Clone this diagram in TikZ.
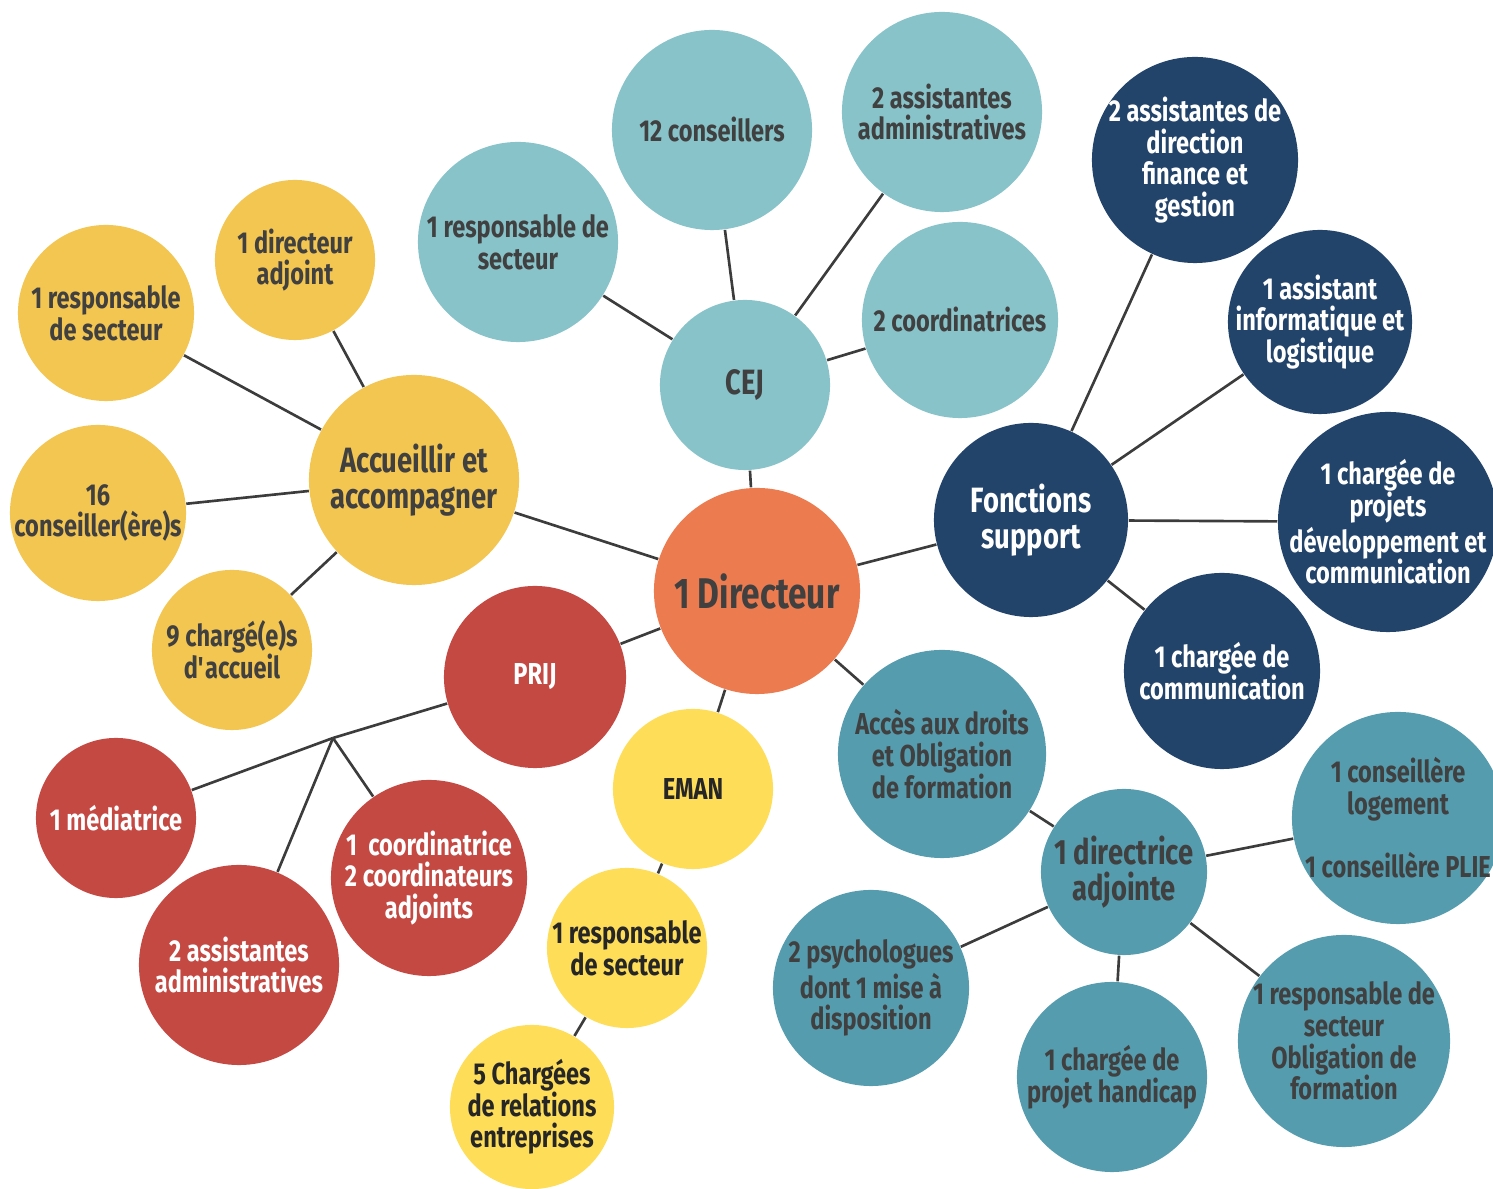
\documentclass[tikz,border=0pt]{standalone}
\usepackage{fontspec}
\setmainfont{Fira Sans}[FakeStretch=0.78]
\usetikzlibrary{backgrounds}

\definecolor{dirorange}{HTML}{EC7B4F}
\definecolor{cejteal}{HTML}{87C3C9}
\definecolor{fsnavy}{HTML}{22436A}
\definecolor{adteal}{HTML}{559CAE}
\definecolor{accgold}{HTML}{F3C551}
\definecolor{emanyellow}{HTML}{FEDD59}
\definecolor{prijred}{HTML}{C54943}
\definecolor{txtgrey}{HTML}{404040}
\definecolor{linkgrey}{HTML}{3C3C3C}

\begin{document}
\begin{tikzpicture}[x=0.01cm,y=-0.01cm,
    bubble/.style={circle,inner sep=-2pt,align=center,
      font=\bfseries\fontsize{8.6}{9}\selectfont},
    bigtxt/.style={font=\bfseries\fontsize{10}{10.3}\selectfont}]

  \useasboundingbox (0,0) rectangle (1493,1189);

  % centre
  \node[bubble,fill=dirorange,text=txtgrey,minimum size=2.06cm,
    font=\bfseries\fontsize{12.2}{13}\selectfont] (dir) at (757,591) {1 Directeur};

  % Accueillir et accompagner
  \begin{scope}[every node/.style={bubble,fill=accgold,text=txtgrey}]
    \node[minimum size=2.1cm,bigtxt] (acc) at (414,480) {Accueillir et\\accompagner};
    \node[minimum size=1.6cm]  (accdir)  at (295,260) {1 directeur\\adjoint};
    \node[minimum size=1.76cm] (accresp) at (106,313) {1 responsable\\de secteur};
    \node[minimum size=1.76cm] (acccons) at (98,513)  {16\\conseiller(ère)s};
    \node[minimum size=1.6cm]  (acccha)  at (232,650) {9 chargé(e)s\\d\textquotesingle accueil};
  \end{scope}

  % CEJ
  \begin{scope}[every node/.style={bubble,fill=cejteal,text=txtgrey}]
    \node[minimum size=1.7cm,bigtxt] (cej) at (745,385) {CEJ};
    \node[minimum size=2cm]    (cejcons)  at (712,130) {12 conseillers};
    \node[minimum size=2cm]    (cejass)   at (942,112) {2 assistantes\\administratives};
    \node[minimum size=2cm]    (cejresp)  at (518,242) {1 responsable de\\secteur};
    \node[minimum size=1.96cm] (cejcoord) at (960,320) {2 coordinatrices};
  \end{scope}

  % Fonctions support
  \begin{scope}[every node/.style={bubble,fill=fsnavy,text=white}]
    \node[minimum size=1.94cm,bigtxt] (fs) at (1031,520) {Fonctions\\support};
    \node[minimum size=2.06cm] (fsass)  at (1195,160) {2 assistantes de\\direction\\finance et\\gestion};
    \node[minimum size=1.84cm] (fsinfo) at (1320,322) {1 assistant\\informatique et\\logistique};
    \node[minimum size=2.2cm]  (fsproj) at (1388,522) {1 chargée de\\projets\\développement et\\communication};
    \node[minimum size=1.96cm] (fscom)  at (1222,671) {1 chargée de\\communication};
  \end{scope}

  % Acces aux droits
  \begin{scope}[every node/.style={bubble,fill=adteal,text=txtgrey}]
    \node[minimum size=2.08cm] (ad)     at (942,754)  {Accès aux droits\\et Obligation\\de formation};
    \node[minimum size=1.66cm,bigtxt] (adj) at (1124,872) {1 directrice\\adjointe};
    \node[minimum size=2.12cm] (adcons) at (1398,818) {1 conseillère\\logement\\~\\1 conseillère PLIE};
    \node[minimum size=1.96cm] (adpsy)  at (871,988)  {2 psychologues\\dont 1 mise à\\disposition};
    \node[minimum size=1.9cm]  (adhand) at (1112,1077) {1 chargée de\\projet handicap};
    \node[minimum size=2.12cm] (adresp) at (1344,1041) {1 responsable de\\secteur\\Obligation de\\formation};
  \end{scope}

  % EMAN
  \begin{scope}[every node/.style={bubble,fill=emanyellow,text=black!85}]
    \node[minimum size=1.6cm]  (eman)   at (693,789)  {EMAN};
    \node[minimum size=1.6cm]  (emresp) at (627,948)  {1 responsable\\de secteur};
    \node[minimum size=1.64cm] (emcha)  at (532,1107) {5 Chargées\\de relations\\entreprises};
  \end{scope}

  % PRIJ
  \begin{scope}[every node/.style={bubble,fill=prijred,text=white}]
    \node[minimum size=1.82cm] (prij)    at (535,677) {PRIJ};
    \node[minimum size=1.6cm]  (prmed)   at (116,818) {1 médiatrice};
    \node[minimum size=2cm]    (prass)   at (239,965) {2 assistantes\\administratives};
    \node[minimum size=1.96cm] (prcoord) at (429,878) {1~ coordinatrice\\2 coordinateurs\\adjoints};
  \end{scope}
  \coordinate (prfork) at (333,738);

  \begin{scope}[on background layer,
      every edge/.style={draw=linkgrey,line width=0.75pt}]
    \path (dir) edge (cej) edge (acc) edge (fs) edge (prij) edge (eman) edge (ad);
    \path (acc) edge (accdir) edge (accresp) edge (acccons) edge (acccha);
    \path (cej) edge (cejcons) edge (cejass) edge (cejresp) edge (cejcoord);
    \path (fs) edge (fsass) edge (fsinfo) edge (fsproj) edge (fscom);
    \path (ad) edge (adj);
    \path (adj) edge (adcons) edge (adpsy) edge (adhand) edge (adresp);
    \path (eman) edge (emresp);
    \path (emresp) edge (emcha);
    \path (prij) edge (prfork);
    \path (prfork) edge (prmed) edge (prass) edge (prcoord);
  \end{scope}

\end{tikzpicture}
\end{document}
